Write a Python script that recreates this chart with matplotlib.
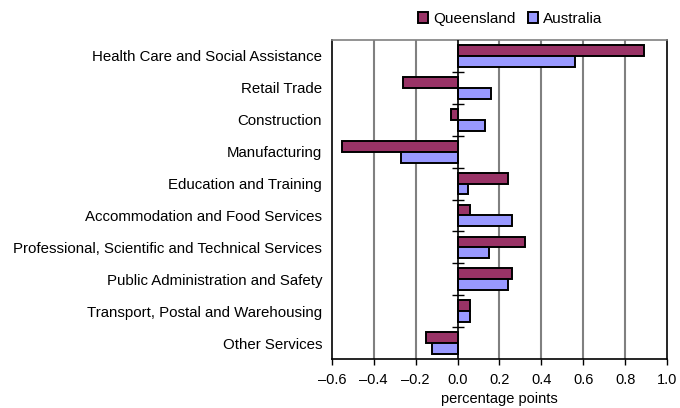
import numpy as np
import matplotlib.pyplot as plt

categories = ['Health Care and Social Assistance', 'Retail Trade', 'Construction',
              'Manufacturing', 'Education and Training', 'Accommodation and Food Services',
              'Professional, Scientific and Technical Services', 'Public Administration and Safety',
              'Transport, Postal and Warehousing', 'Other Services']
queensland = [0.89, -0.26, -0.03, -0.55, 0.24, 0.06, 0.32, 0.26, 0.06, -0.15]
australia = [0.56, 0.16, 0.13, -0.27, 0.05, 0.26, 0.15, 0.24, 0.06, -0.12]
xticks = [-0.6, -0.4, -0.2, 0.0, 0.2, 0.4, 0.6, 0.8, 1.0]

plt.rcParams['font.family'] = ['Liberation Sans', 'DejaVu Sans']

fig = plt.figure(figsize=(6.8, 4.08), dpi=100)
ax = fig.add_axes([0.488, 0.12, 0.493, 0.782])

y = np.arange(len(categories))
h = 0.34
ax.barh(y - h / 2, queensland, height=h, color='#993366', edgecolor='black', linewidth=1.4,
        label='Queensland', zorder=3)
ax.barh(y + h / 2, australia, height=h, color='#9999FF', edgecolor='black', linewidth=1.4,
        label='Australia', zorder=3)

ax.set_xlim(-0.6, 1.0)
ax.set_ylim(len(categories) - 0.5, -0.5)
ax.set_xticks(xticks)
ax.set_xticklabels([f'{t:.1f}'.replace('-', '\u2013') for t in xticks], fontsize=10.5)
ax.set_yticks(y)
ax.set_yticklabels(categories, fontsize=10.8)
ax.tick_params(axis='y', length=0, pad=7)
ax.tick_params(axis='x', direction='out', length=4, width=1, pad=6)

for t in xticks[1:-1]:
    if t != 0.0:
        ax.axvline(t, color='#808080', linewidth=1.5, zorder=1)

# zero axis with small ticks between categories
ax.axvline(0, color='black', linewidth=1.2, zorder=4)
bounds = np.arange(len(categories) + 1) - 0.5
ax.plot(np.zeros(len(bounds) - 2), bounds[1:-1], linestyle='none', marker='_',
        markersize=8, color='black', markeredgewidth=1, zorder=4)

for s in ['left', 'right', 'bottom']:
    ax.spines[s].set_color('black')
    ax.spines[s].set_linewidth(1.2)
ax.spines['top'].set_color('#808080')
ax.spines['top'].set_linewidth(1.2)

ax.set_xlabel('percentage points', fontsize=10.5, labelpad=4)

fig.legend(loc='upper center', bbox_to_anchor=(0.75, 1.005), ncol=2, frameon=False,
           fontsize=11, handlelength=0.7, handleheight=0.7, handletextpad=0.3,
           columnspacing=0.8)

fig.savefig('out.png', dpi=100)
